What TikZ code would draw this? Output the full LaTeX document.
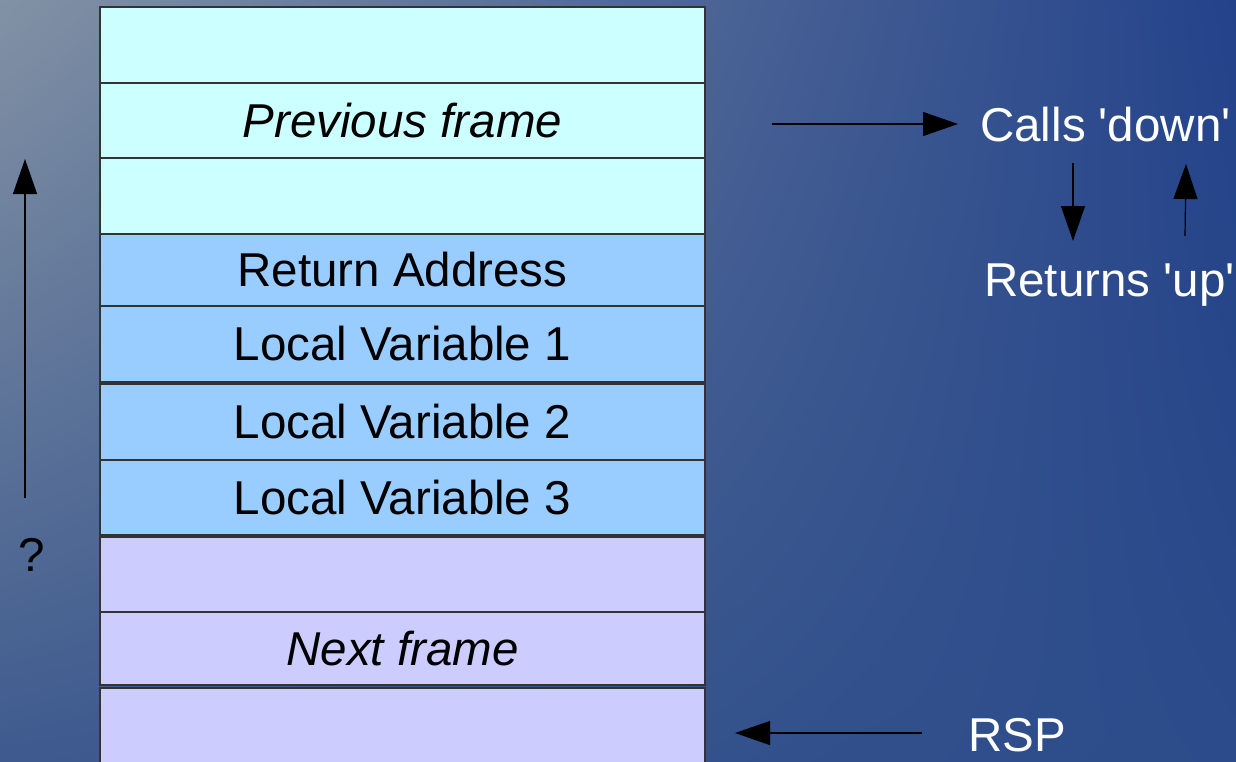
\documentclass[tikz,border=0pt]{standalone}
\usepackage{fontspec}
\setmainfont{Liberation Sans}
\usetikzlibrary{arrows.meta,shadings}
\definecolor{bgUL}{HTML}{8292A5}
\definecolor{bgUR}{HTML}{23428A}
\definecolor{bgLL}{HTML}{3E5A8E}
\definecolor{bgLR}{HTML}{2B4B8A}
\definecolor{cyanrow}{HTML}{CCFFFF}
\definecolor{bluerow}{HTML}{99CCFF}
\definecolor{lavrow}{HTML}{CCCCFF}
\definecolor{edgecol}{HTML}{333333}
\tikzset{
  rowbox/.style={draw=edgecol, line width=1.2pt, minimum width=605pt, inner sep=0pt, outer sep=0pt, font=\fontsize{47.5}{57}\selectfont, text=black},
  lbl/.style={inner sep=0pt, font=\fontsize{47.5}{57}\selectfont, text=white},
  arr/.style={line width=1.2pt, draw=black, -{Triangle[length=35pt,width=24pt]}}
}
\begin{document}
\begin{tikzpicture}[x=1pt,y=-1pt]
\useasboundingbox (0,0) rectangle (1236,761);
\shade[upper left=bgUL, upper right=bgUR, lower left=bgLL, lower right=bgLR] (0,0) rectangle (1236,761);
\begin{scope}
\clip (0,0) rectangle (1236,761);
\node[rowbox, fill=cyanrow, minimum height=76pt] (r1) at (402.5,45) {};
\node[rowbox, fill=cyanrow, minimum height=75pt] (r2) at (402.5,120.5) {\itshape Previous frame};
\node[rowbox, fill=cyanrow, minimum height=76pt] (r3) at (402.5,196) {};
\node[rowbox, fill=bluerow, minimum height=72pt] (r4) at (402.5,270) {Return Address};
\node[rowbox, fill=bluerow, minimum height=76pt] (r5) at (402.5,344) {Local Variable 1};
\node[rowbox, fill=bluerow, minimum height=76pt] (r6) at (402.5,422) {Local Variable 2};
\node[rowbox, fill=bluerow, minimum height=75pt] (r7) at (402.5,497.5) {Local Variable 3};
\node[rowbox, fill=lavrow, minimum height=75pt] (r8) at (402.5,574.5) {};
\node[rowbox, fill=lavrow, minimum height=73pt] (r9) at (402.5,648.5) {\itshape Next frame};
\node[rowbox, fill=lavrow, minimum height=82pt] (r10) at (402.5,729) {};
\end{scope}
% right labels
\node[lbl, anchor=west] (calls) at (980,125) {Calls \textquotesingle down\textquotesingle};
\node[lbl, anchor=west] (returns) at (984,285) {Returns \textquotesingle up\textquotesingle};
\node[lbl, anchor=west] (rsp) at (968,735) {RSP};
\node[lbl, text=black] (q) at (32,555) {?};
% arrow coordinates
\coordinate (callsStart) at (772,124);
\coordinate (callsEnd) at (958,124);
\coordinate (downStart) at (1073,163);
\coordinate (downEnd) at (1073,241);
\coordinate (upStart) at (1185,236);
\coordinate (upEnd) at (1186,164);
\coordinate (rspStart) at (922,733);
\coordinate (rspEnd) at (735,733);
\coordinate (leftStart) at (25,498);
\coordinate (leftEnd) at (25,159);
\draw[arr] (callsStart) -- (callsEnd);
\draw[arr] (downStart) -- (downEnd);
\draw[arr] (upStart) -- (upEnd);
\draw[arr] (rspStart) -- (rspEnd);
\draw[arr] (leftStart) -- (leftEnd);
\end{tikzpicture}
\end{document}
